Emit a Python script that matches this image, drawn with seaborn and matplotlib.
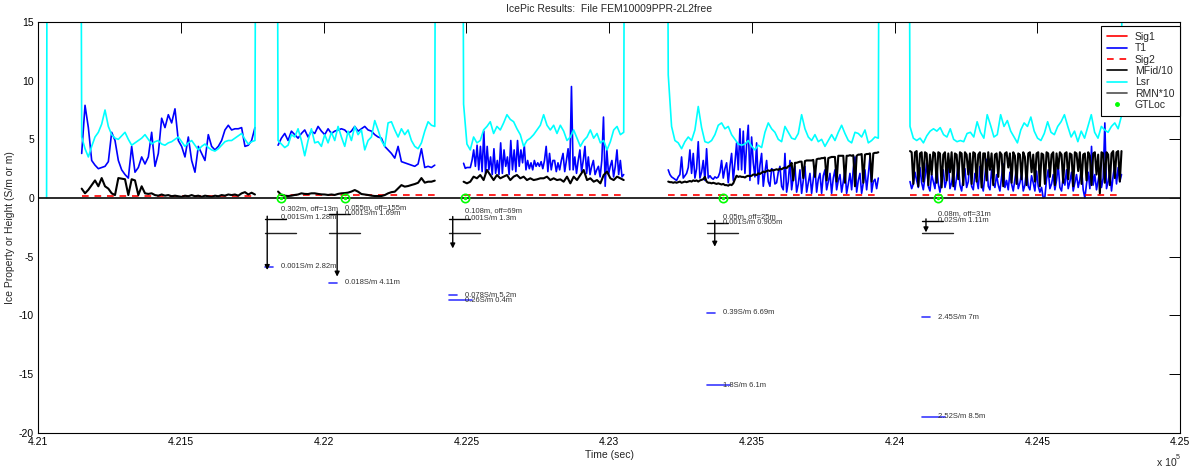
import numpy as np
import pandas as pd
import seaborn as sns
import matplotlib
matplotlib.use("Agg")
import matplotlib.pyplot as plt
from matplotlib.lines import Line2D

# ---- data ----
seg_t0 = [421152, 421840, 422490, 423207, 424054]
seg_t1 = [421759, 422389, 423051, 423943, 424795]

# T1 (blue)
t1_vals = [
    [3.8, 7.9, 6.0, 3.2, 2.8, 2.5, 2.6, 2.7, 3.1, 5.6, 4.9, 3.2, 2.4, 2.0, 1.7, 4.4, 2.2, 2.6,
     3.5, 2.9, 3.5, 5.6, 2.7, 3.8, 6.8, 6.0, 7.1, 6.4, 7.6, 4.9, 4.4, 3.5, 5.2, 3.2, 2.2, 4.4,
     3.8, 3.2, 5.4, 4.4, 4.1, 4.4, 4.9, 5.8, 6.2, 5.8, 5.9, 5.9, 6.0, 4.4, 4.5, 4.9, 6.0],
    [4.5, 5.1, 5.5, 4.9, 5.7, 5.4, 5.1, 5.5, 5.8, 5.2, 5.7, 5.5, 6.1, 5.7, 5.4, 5.9, 5.5, 5.7,
     5.8, 5.9, 5.8, 5.5, 5.7, 6.1, 5.7, 5.9, 6.1, 5.8, 5.7, 5.4, 5.2, 5.1, 4.4, 4.1, 3.8, 3.4,
     4.4, 3.1, 3.0, 2.9, 2.8, 2.7, 2.9, 4.2, 2.6, 2.7, 2.6, 2.8],
    [2.96, 2.53, 2.6, 2.6, 2.6, 3.2, 4.1, 2.7, 4.5, 2.4, 4.4, 2.25, 5.7, 2.1, 4.4, 2.4, 3.5, 2.0,
     4.2, 2.1, 3.2, 2.0, 4.7, 2.1, 4.1, 2.7, 3.5, 2.0, 4.9, 2.4, 4.1, 2.25, 4.9, 2.7, 4.1, 3.0,
     4.5, 2.4, 3.2, 2.5, 3.0, 2.4, 3.2, 2.7, 3.0, 2.7, 3.1, 2.5, 3.2, 4.4, 2.25, 3.8, 2.4, 3.2,
     3.2, 2.25, 3.0, 2.4, 3.2, 3.8, 2.25, 3.2, 4.2, 2.4, 9.5, 2.4, 3.5, 2.1, 3.2, 4.1, 2.25, 3.2,
     4.4, 2.1, 3.5, 2.0, 2.7, 3.2, 2.0, 2.4, 2.7, 1.8, 3.2, 6.9, 1.0, 4.1, 2.0, 2.7, 3.2, 1.8,
     2.7, 4.1, 2.0, 3.2, 1.8, 2.0],
    [2.4, 2.0, 1.8, 1.7, 1.6, 1.5, 1.8, 2.0, 3.5, 1.7, 1.9, 2.1, 2.6, 4.1, 2.1, 3.8, 1.7, 2.5,
     4.8, 1.7, 2.2, 3.2, 1.5, 4.2, 1.7, 1.9, 1.7, 1.6, 1.8, 1.7, 1.8, 2.2, 3.2, 1.7, 2.5, 3.0,
     1.3, 2.7, 3.8, 1.5, 3.0, 4.7, 2.4, 5.9, 2.4, 5.7, 2.1, 4.5, 6.2, 1.5, 5.2, 3.0, 1.8, 4.7,
     1.2, 2.8, 3.8, 1.0, 2.2, 3.2, 1.4, 1.0, 2.5, 2.4, 1.2, 1.3, 2.2, 2.7, 1.0, 0.7, 3.8, 0.5,
     1.4, 3.2, 0.7, 1.8, 2.7, 0.5, 1.2, 2.4, 0.4, 1.5, 2.7, 0.5, 1.3, 2.1, 0.4, 1.6, 2.7, 0.5,
     1.6, 2.1, 0.4, 1.9, 2.4, 0.7, 1.4, 2.1, 0.4, 1.7, 2.4, 0.7, 1.5, 2.0, 0.5, 1.4, 2.4, 0.4,
     1.2, 2.1, 0.7, 2.5, 3.5, 0.5, 1.5, 2.1, 0.4, 1.3, 2.4, 0.7, 2.0, 3.5, 0.5, 1.4, 1.6, 0.8,
     1.7],
    [1.4, 0.8, 1.2, 2.2, 1.5, 0.9, 2.6, 1.3, 0.7, 1.8, 3.0, 1.0, 0.6, 2.0, 1.4, 0.8, 2.8, 1.2,
     0.5, 1.6, 2.4, 0.9, 1.5, 3.1, 0.8, 1.3, 2.2, 0.7, 1.8, 2.9, 1.1, 0.6, 1.7, 2.5, 0.9, 1.4,
     3.2, 1.0, 0.7, 2.1, 1.6, 0.8, 2.7, 1.2, 0.6, 1.9, 3.3, 1.0, 0.7, 2.4, 1.3, 0.9, 2.0, 1.1,
     0.6, 1.8, 2.9, 0.9, 1.5, 0.7, 2.2, 1.2, 0.6, 1.6, 2.6, 0.8, 1.3, 2.1, 0.6, 1.1, 2.5, 1.0,
     0.7, 1.9, 1.3, 0.6, 2.3, 1.0, 0.5, 0.9, 0.0, 0.1, 1.6, 2.4, 0.8, 1.2, 2.0, 0.7, 1.5, 2.8,
     0.9, 0.6, 1.8, 1.1, 2.4, 0.8, 1.4, 2.2, 0.6, 1.3, 2.0, 0.9, 1.6, 2.6, 0.7, 0.0, 1.2, 2.2,
     0.8, 4.4, 1.1, 2.0, 0.7, 1.5, 2.4, 0.9, 1.7, 6.4, 0.8, 1.4, 2.3, 0.6, 1.9, 2.9, 1.2, 2.6,
     1.4, 2.0],
]

# MFid/10 (black)
mfid_vals = [
    [0.8, 0.4, 0.7, 1.1, 1.5, 1.0, 1.7, 1.0, 0.8, 0.4, 0.25, 1.7, 1.65, 1.6, 0.25, 1.6, 1.5,
     0.25, 1.0, 0.4, 0.35, 0.4, 0.25, 0.2, 0.3, 0.2, 0.25, 0.15, 0.2, 0.15, 0.1, 0.2, 0.15,
     0.25, 0.15, 0.2, 0.1, 0.2, 0.15, 0.1, 0.2, 0.15, 0.25, 0.2, 0.3, 0.25, 0.3, 0.2, 0.4,
     0.5, 0.3, 0.45, 0.3],
    [0.55, 0.26, 0.2, 0.17, 0.2, 0.26, 0.3, 0.4, 0.35, 0.34, 0.4, 0.4, 0.35, 0.31, 0.3, 0.26,
     0.3, 0.26, 0.35, 0.4, 0.42, 0.46, 0.55, 0.68, 0.54, 0.34, 0.3, 0.26, 0.2, 0.17, 0.17,
     0.17, 0.25, 0.4, 0.5, 0.54, 0.82, 1.1, 0.97, 1.02, 1.11, 1.19, 1.3, 1.7, 1.31, 1.39,
     1.39, 1.48],
    [1.39, 1.25, 1.39, 1.82, 1.68, 1.96, 1.53, 2.39, 1.96, 1.53, 1.96, 1.68, 1.82, 1.96, 1.53,
     1.82, 1.96, 1.68, 1.82, 1.53, 1.68, 1.53, 1.59, 1.68, 1.68, 1.82, 1.53, 1.68, 1.53, 1.59,
     1.39, 1.82, 1.25, 1.82, 1.53, 1.96, 2.39, 1.53, 1.68, 1.39, 1.53, 1.25, 1.96, 2.25, 1.68,
     1.53, 1.82, 1.68, 1.53],
    [1.4, 1.35, 1.35, 1.3, 1.35, 1.3, 1.35, 1.4, 1.3, 1.35, 1.4, 1.35, 1.4, 1.45, 1.4,
     1.5, 1.45, 1.5, 1.4, 1.5, 1.55, 1.6, 1.8, 1.4, 1.3, 1.3, 1.25, 1.3, 1.25, 1.2,
     1.25, 1.2, 1.15, 1.2, 1.1, 1.1, 1.05, 1.15, 1.1, 1.25, 1.6, 1.9, 1.8, 1.85, 1.8,
     1.8, 1.75, 1.85, 1.9, 1.85, 1.9, 2.0, 2.0, 1.95, 2.1, 2.05, 2.15, 2.25, 2.2, 2.3,
     2.35, 2.3, 2.4, 2.35, 2.4, 2.45, 2.4, 2.5, 2.45, 2.55, 2.6, 2.55, 2.7, 2.75, 3.0,
     1.5, 3.0, 3.0, 3.05, 3.1, 3.1, 1.7, 3.15, 3.2, 3.2, 3.2, 3.2, 3.25, 1.8, 3.3,
     3.35, 3.35, 3.4, 3.4, 3.45, 1.5, 3.4, 3.45, 3.5, 3.5, 3.5, 1.4, 3.6, 3.6, 3.6,
     3.6, 1.3, 3.6, 3.6, 3.65, 3.6, 3.65, 1.0, 3.6, 3.7, 3.7, 3.75, 1.3, 3.7, 3.75,
     3.75, 3.8, 1.4, 3.8, 3.85, 3.85, 3.9],
    [4.0, 3.9, 1.2, 3.9, 4.0, 1.0, 3.8, 3.9, 1.4, 3.9, 3.8, 1.1, 3.7, 2.0, 3.9, 3.8, 1.3, 3.9,
     3.8, 0.9, 3.7, 3.9, 1.5, 3.8, 2.2, 3.9, 1.0, 3.8, 3.7, 1.6, 3.9, 3.8, 1.1, 3.9, 3.7, 2.0,
     3.8, 1.2, 3.9, 3.8, 1.4, 3.7, 3.9, 0.9, 3.8, 3.8, 1.5, 3.9, 2.4, 3.8, 1.1, 3.7, 3.8, 1.8,
     3.9, 3.7, 1.0, 3.8, 3.9, 2.6, 3.8, 1.3, 3.9, 3.6, 1.2, 3.8, 3.7, 1.6, 3.9, 3.5, 1.1, 3.8,
     3.9, 2.2, 3.7, 1.4, 3.8, 3.9, 1.0, 3.8, 3.7, 1.2, 3.9, 3.8, 1.8, 3.7, 3.9, 1.1, 3.8, 2.5,
     3.9, 3.7, 1.3, 3.8, 3.9, 1.6, 3.8, 3.7, 1.0, 3.9, 3.8, 2.3, 3.9, 1.2, 3.7, 3.8, 1.5, 3.9,
     3.6, 1.1, 3.8, 3.9, 2.0, 3.7, 0.4, 3.9, 3.8, 1.3, 3.9, 3.7, 1.1, 3.8, 4.0, 1.7, 3.9, 4.0,
     1.4, 4.0],
]

# Lsr (cyan); above the axis range between the flight segments
lsr_vals = [
    [5.2, 4.2, 3.5, 4.4, 5.2, 5.6, 6.3, 7.5, 6.1, 5.4, 5.1, 5.0, 5.3, 5.6, 5.0, 4.5, 4.7, 4.9,
     5.1, 5.4, 5.0, 4.6, 4.8, 4.9, 4.6, 4.5, 4.7, 4.8, 5.0, 5.2, 4.8, 4.4, 4.7, 4.9, 4.5, 4.1,
     4.4, 4.6, 4.3, 4.1, 4.0, 4.2, 4.5, 4.8, 4.9, 4.9, 5.1, 5.3, 5.5, 5.0, 4.6, 4.8, 4.9],
    [4.9, 4.6, 4.3, 4.5, 5.4, 5.2, 5.9, 4.9, 3.6, 4.9, 5.9, 4.7, 4.8, 4.4, 5.4, 4.7, 5.6, 4.9,
     6.1, 5.2, 4.4, 5.7, 4.9, 6.1, 5.4, 5.8, 4.1, 4.9, 5.2, 6.6, 5.8, 4.9, 4.4, 6.4, 6.5, 5.8,
     5.2, 5.9, 5.4, 5.8, 4.9, 4.4, 4.2, 4.7, 5.7, 6.5, 6.2, 6.1],
    [8.0, 4.6, 4.1, 5.2, 4.7, 4.9, 5.8, 6.1, 6.5, 5.5, 6.1, 5.8, 6.4, 7.1, 6.7, 6.5, 5.9, 5.4,
     4.4, 4.9, 5.1, 5.4, 5.8, 6.2, 7.1, 6.2, 5.8, 6.2, 5.5, 6.2, 5.7, 4.9, 5.2, 5.8, 5.1, 4.4,
     4.9, 5.2, 5.8, 5.1, 5.5, 4.7, 4.9, 4.1, 4.8, 5.8, 6.1, 5.4, 5.6],
    [10.5, 6.1, 4.9, 4.7, 4.2, 4.8, 5.2, 4.9, 5.8, 7.8, 6.0, 4.8, 4.7, 4.9, 5.4, 6.2, 6.4, 5.9,
     6.1, 5.4, 5.0, 4.6, 4.5, 4.6, 4.9, 4.4, 4.1, 4.5, 4.3, 5.6, 6.4, 5.9, 5.6, 5.0, 4.8, 6.1,
     5.6, 5.1, 5.0, 5.5, 7.1, 5.9, 5.2, 4.9, 5.4, 4.8, 5.0, 4.4, 4.9, 5.4, 4.9, 5.6, 6.2, 5.5,
     4.9, 4.7, 5.6, 5.5, 5.2, 5.8, 4.7, 4.9, 5.2, 5.1],
    [6.1, 5.1, 4.9, 5.1, 4.7, 5.3, 5.7, 5.9, 5.7, 6.0, 5.4, 5.2, 5.9, 5.0, 4.8, 4.9, 4.8, 5.5,
     5.6, 5.2, 6.5, 5.6, 5.1, 7.1, 6.2, 5.2, 5.4, 7.1, 6.1, 6.6, 5.7, 5.2, 4.7, 5.8, 6.4, 6.1,
     6.9, 5.7, 5.1, 4.9, 5.5, 6.5, 5.6, 5.4, 6.1, 6.5, 7.1, 6.1, 5.2, 5.7, 4.8, 5.7, 5.1, 6.1,
     7.1, 5.6, 5.1, 6.1, 5.8, 5.6, 6.1, 6.4, 5.9, 7.0],
]
lsr_lead_t = [421029, 421031]
lsr_lead = [0.0, 30.0]
lsr_off_scale = 30.0

sig2_level = [0.2, 0.25, 0.25, 0.25, 0.25]
rmn_t = [421000, 425000]
rmn = [0.0, 0.0]

# ground-truth interpretations
gt_t = [421849, 422075, 422496, 423400, 424151]
head_text = ["0.302m, off=13m", "0.055m, off=155m", "0.108m, off=69m", "0.05m, off=25m", "0.08m, off=31m"]
head_y = [-0.94, -0.85, -1.1, -1.6, -1.3]
top_text = ["0.001S/m 1.28m", "0.001S/m 1.69m", "0.001S/m 1.3m", "0.001S/m 0.905m", "0.02S/m 1.11m"]
top_y = [-1.7, -1.3, -1.73, -2.07, -1.93]
arrow_t = [421802, 422047, 422452, 423370, 424110]
arrow_end = [-6.14, -6.7, -4.3, -4.15, -2.93]
mid_text = ["0.001S/m 2.82m", "0.018S/m 4.11m", "0.078S/m 5.2m", "0.39S/m 6.69m", "2.45S/m 7m"]
mid_y = [-5.85, -7.2, -8.27, -9.78, -10.17]
low_text = [None, None, "0.26S/m 0.4m", "1.8S/m 6.1m", "2.52S/m 8.5m"]
low_y = [None, None, -8.7, -15.94, -18.64]
floor_depth = -3.0

xtick_vals = [421000, 421500, 422000, 422500, 423000, 423500, 424000, 424500, 425000]
xtick_labels = ["4.21", "4.215", "4.22", "4.225", "4.23", "4.235", "4.24", "4.245", "4.25"]
ytick_vals = [-20, -15, -10, -5, 0, 5, 10, 15]


def seg_frame(vals_by_seg):
    parts = []
    for k, vals in enumerate(vals_by_seg):
        t = np.linspace(seg_t0[k], seg_t1[k], len(vals))
        parts.append(pd.DataFrame({"t": t, "v": vals, "seg": k}))
    return pd.concat(parts, ignore_index=True)


t1_df = seg_frame(t1_vals)
mfid_df = seg_frame(mfid_vals)

lsr_t = list(lsr_lead_t)
lsr_v = list(lsr_lead)
for k, vals in enumerate(lsr_vals):
    lsr_t += [seg_t0[k] - 3] + list(np.linspace(seg_t0[k], seg_t1[k], len(vals))) + [seg_t1[k] + 3]
    lsr_v += [lsr_off_scale] + vals + [lsr_off_scale]
lsr_df = pd.DataFrame({"t": lsr_t, "v": lsr_v, "seg": 0})

sig2_df = pd.concat([pd.DataFrame({"t": [seg_t0[k], seg_t1[k]], "v": [sig2_level[k]] * 2, "seg": k})
                     for k in range(len(seg_t0))], ignore_index=True)
rmn_df = pd.DataFrame({"t": rmn_t, "v": rmn, "seg": 0})

# ---- plot ----
sns.set_theme(style="white")
plt.rcParams["font.family"] = ["Liberation Sans", "DejaVu Sans"]
plt.rcParams["axes.unicode_minus"] = False

fig = plt.figure(figsize=(11.94, 4.70), dpi=100)
ax = fig.add_axes([0.03208, 0.07936, 0.9562, 0.87383])

BLUE = "#0000ff"
kw = dict(x="t", y="v", units="seg", estimator=None, sort=False, legend=False, ax=ax)
sns.lineplot(data=t1_df, color=BLUE, lw=1.2, **kw)
sns.lineplot(data=sig2_df, color="#ff0000", lw=1.2, linestyle=(0, (4, 3.5)), **kw)
sns.lineplot(data=mfid_df, color="black", lw=1.5, **kw)
sns.lineplot(data=lsr_df, color="#00ffff", lw=1.2, **kw)
sns.lineplot(data=rmn_df, color="#1a1a1a", lw=1.3, **kw)

ax.plot(gt_t, [0] * len(gt_t), ls="none", marker="o", ms=6, mfc="none", mec="#00ff00", mew=1.2)
ax.plot(gt_t, [0] * len(gt_t), ls="none", marker=".", ms=3, color="#00ff00")

# ground-truth annotations
txt_kw = dict(fontsize=5.5, color="#333333", ha="left", va="center")
for k, g in enumerate(gt_t):
    ax.plot([g - 56, g + 18], [top_y[k] - 0.05] * 2, color="black", lw=1.0)
    ax.plot([g - 56, g + 53], [floor_depth] * 2, color="#222222", lw=1.0)
    ax.annotate("", xy=(arrow_t[k], arrow_end[k]), xytext=(arrow_t[k], top_y[k] + 0.15),
                arrowprops=dict(arrowstyle="-|>", color="black", lw=1.0, mutation_scale=7,
                                shrinkA=0, shrinkB=0))
    ax.text(g, head_y[k], head_text[k], **txt_kw)
    ax.text(g, top_y[k], top_text[k], **txt_kw)
    ax.plot([g - 56, g - 28], [mid_y[k]] * 2, color="#3a3aff", lw=1.2)
    ax.text(g, mid_y[k], mid_text[k], **txt_kw)
    if low_text[k] is not None:
        ax.plot([g - 56, g + 25], [low_y[k]] * 2, color="#3a3aff", lw=1.2)
        ax.text(g, low_y[k], low_text[k], **txt_kw)

ax.set_xlim(421000, 425000)
ax.set_ylim(-20, 15)
ax.set_xticks(xtick_vals)
ax.set_xticklabels(xtick_labels)
ax.set_yticks(ytick_vals)
ax.tick_params(direction="in", top=True, right=True, length=8, width=0.7,
               labelsize=7.5, colors="black", pad=3)
for s in ax.spines.values():
    s.set_color("black")
    s.set_linewidth(0.8)

ax.set_xlabel("Time (sec)", fontsize=7.5)
ax.xaxis.set_label_coords(0.5, -0.042)
ax.set_ylabel("Ice Property or Height (S/m or m)", fontsize=7.5)
ax.yaxis.set_label_coords(-0.0205, 0.5)
ax.set_title("IcePic Results:  File FEM10009PPR-2L2free", fontsize=7.5, pad=7)
fig.text(1157 / 1194, 1 - 466 / 470, "x 10", fontsize=7.5, ha="left", va="baseline")
fig.text(1176 / 1194, 1 - 459 / 470, "5", fontsize=5, ha="left", va="baseline")

handles = [
    Line2D([], [], color="#ff0000", lw=1.2),
    Line2D([], [], color=BLUE, lw=1.2),
    Line2D([], [], color="#ff0000", lw=1.2, linestyle=(0, (4, 3.5))),
    Line2D([], [], color="black", lw=1.2),
    Line2D([], [], color="#00ffff", lw=1.2),
    Line2D([], [], color="#505050", lw=1.2),
    Line2D([], [], color="#00ff00", ls="none", marker=".", ms=5),
]
labels = ["Sig1", "T1", "Sig2", "MFid/10", "Lsr", "RMN*10", "GTLoc"]
leg = ax.legend(handles, labels, loc="upper right", bbox_to_anchor=(1.0, 0.99),
                borderaxespad=0, fontsize=7.5, frameon=True, fancybox=False,
                handlelength=2.0, handletextpad=0.7, labelspacing=0.13,
                borderpad=0.55, framealpha=1)
leg.get_frame().set_edgecolor("black")
leg.get_frame().set_linewidth(0.8)

fig.savefig("out.png", dpi=100)
